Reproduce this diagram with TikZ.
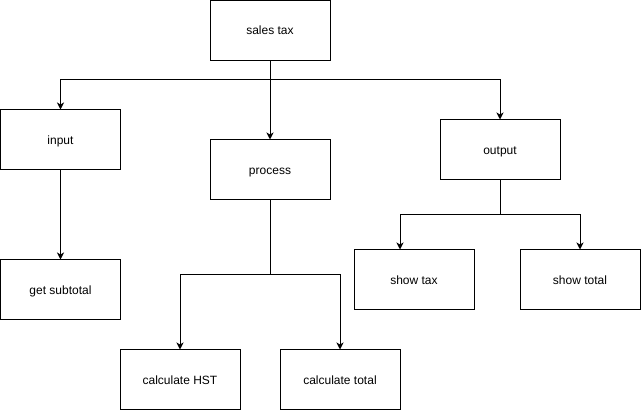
\documentclass[tikz,border=0pt]{standalone}
\usepackage{fontspec}
\setmainfont{Liberation Sans}
\usetikzlibrary{arrows.meta}
\begin{document}
\begin{tikzpicture}[x=1pt,y=-1pt,
  box/.style={draw=black,line width=1pt,minimum width=120pt,minimum height=60pt,inner sep=0pt,text height=10.2pt,text depth=1.2pt,font=\fontsize{12}{14}\selectfont},
  conn/.style={draw=black,line width=1pt,-{Stealth[length=7pt,width=7pt,inset=2pt]}}]
\useasboundingbox (0,0) rectangle (641,411);
\node[box] (sales) at (270,30.5) {sales tax};
\node[box] (input) at (60.5,140) {input};
\node[box] (process) at (270,170) {process};
\node[box] (output) at (500,150) {output};
\node[box] (sub) at (60.5,290) {get subtotal};
\node[box] (stax) at (414,280) {show tax};
\node[box] (stotal) at (580,280) {show total};
\node[box] (hst) at (180,380) {calculate HST};
\node[box] (ctotal) at (340,380) {calculate total};
\coordinate (j1) at (270,80);
\coordinate (j2) at (500,215);
\coordinate (j3) at (270,275);
\draw[conn] (sales.south) -- (j1) -| (input.north);
\draw[conn] (sales.south) -- (process.north);
\draw[conn] (j1) -| (output.north);
\draw[conn] (input.south) -- (sub.north);
\draw[conn] (output.south) -- (j2) -| (stax.north -| 400,0);
\draw[conn] (j2) -| (stotal.north);
\draw[conn] (process.south) -- (j3) -| (hst.north);
\draw[conn] (j3) -| (ctotal.north);
\end{tikzpicture}
\end{document}
